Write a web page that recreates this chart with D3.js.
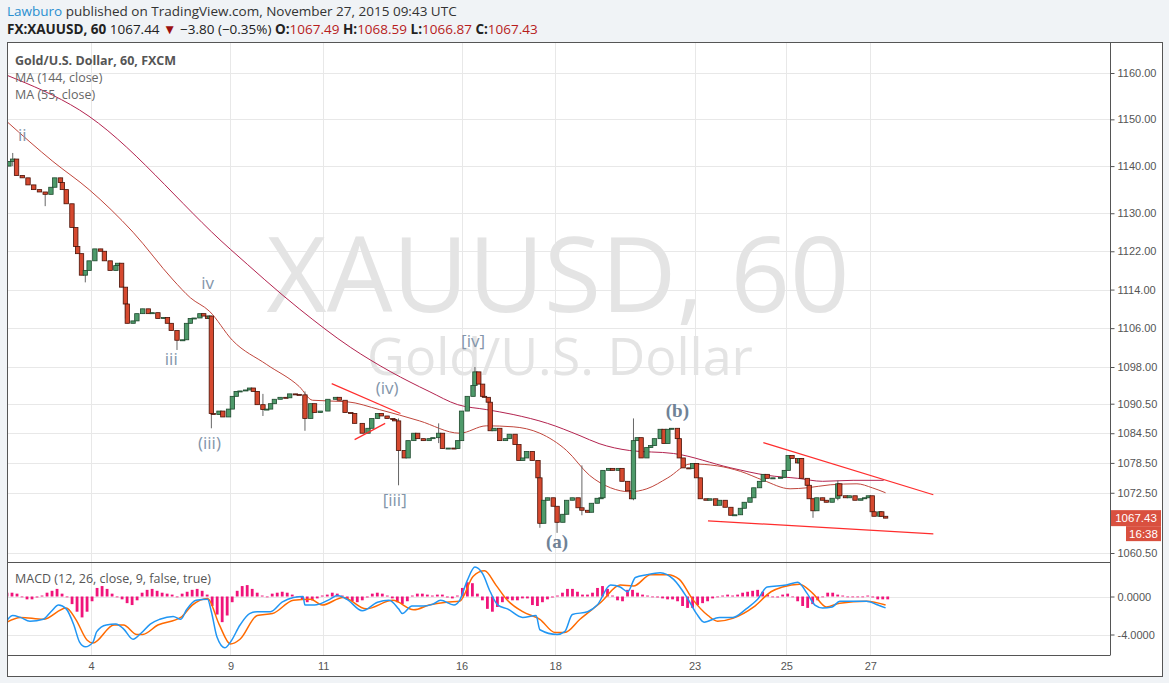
<!DOCTYPE html>
<html><head><meta charset="utf-8">
<script src="https://cdn.jsdelivr.net/npm/d3@7"></script>
<style>
html,body{margin:0;padding:0;background:#f0f3f6;}
svg{display:block;font-family:"Open Sans","Noto Sans",sans-serif;}
</style></head>
<body><svg id="c" width="1169" height="683"></svg>
<script>
// ---------- DATA (time in trading hours from chart start) ----------
const priceBars = [[1,1141],[3,1141.5],[5,1138],[8,1137.5],[11,1136],[14,1135],[17,1134.5],[20,1134],[23,1135.5],[25,1137.5],[28,1136.5],[29,1135],[31,1132],[34,1127],[36,1123],[37,1121.5],[39,1117],[41,1118],[43,1120],[46,1122.5],[49,1122],[51,1120],[54,1118],[57,1119],[58,1119.5],[60,1114.5],[62,1111],[63,1107],[66,1107.5],[68,1109],[71,1110],[74,1109],[76,1109.2],[79,1108],[82,1108.2],[84,1107],[86,1105.5],[89,1103.5],[92,1103.6],[94,1107],[96,1108],[98,1108.1],[101,1109],[103,1108.5],[105,1108],[106,1108.5],[107,1088.5],[108,1088.3],[111,1089],[113,1087.8],[116,1089.4],[118,1092],[120,1093],[122,1093.1],[125,1093.3],[127,1093.7],[129,1093],[131,1090.3],[134,1089.3],[136,1089.4],[138,1090.5],[140,1091.4],[143,1091.8],[146,1091.7],[148,1092.5],[151,1092.4],[153,1092.3],[156,1087.5],[159,1090.5],[161,1088.7],[164,1089],[168,1091.4],[172,1091.8],[174,1091.2],[177,1088.7],[180,1088.5],[182,1086.5],[186,1084.5],[189,1085.5],[191,1087.5],[194,1088.5],[196,1088],[199,1087.5],[202,1087.3],[203,1087],[205,1081],[208,1079.5],[210,1083],[213,1084.5],[215,1083.4],[218,1083],[221,1083.4],[223,1083.6],[226,1084.5],[228,1081.4],[231,1081.5],[234,1081.4],[236,1083],[238,1089],[241,1092],[244,1094.2],[245,1097],[247,1094.5],[249,1092],[250,1091.8],[252,1090.8],[253,1085],[255,1085.5],[258,1083],[261,1083.4],[263,1084.3],[266,1082.2],[268,1079],[270,1079.5],[272,1080.8],[275,1079],[278,1075.5],[279,1066.4],[281,1071],[283,1071.5],[286,1069.8],[288,1066.6],[291,1068.2],[293,1071],[296,1071.5],[299,1069.5],[301,1069],[304,1068.6],[306,1070.4],[309,1071.4],[311,1071.5],[312,1077],[315,1077.4],[317,1077],[320,1077.4],[322,1074.8],[325,1072.9],[327,1071.3],[328,1083],[330,1083.6],[332,1079.5],[335,1081.6],[337,1082],[339,1083.4],[342,1085.3],[344,1082.4],[346,1085.3],[348,1085.5],[351,1083.4],[352,1079.5],[354,1077.5],[357,1077.4],[359,1078.4],[361,1075.5],[363,1071.3],[366,1071],[368,1071.3],[371,1070],[373,1071],[376,1069.6],[379,1068],[381,1068.1],[384,1069.4],[386,1070.6],[389,1071.5],[391,1073.5],[394,1074.8],[396,1076.2],[398,1075.4],[401,1075.5],[405,1075.6],[407,1077],[409,1080],[411,1079.4],[414,1078.5],[415,1079.4],[416,1075.4],[419,1074],[420,1071.3],[422,1068.9],[424,1071.5],[427,1071],[429,1070.6],[432,1071.4],[435,1074.3],[436,1071.9],[439,1071.5],[441,1071.9],[444,1071],[447,1071.3],[449,1071.5],[451,1071.9],[453,1068.7],[454,1067.8],[457,1068.7],[458,1067.8],[460,1067.43]];
const firstOpen = 1140;
// extra wick extremes [hour, high, low]
const wickSpikes = [[3,1142.8,1140],[20,1134,1131.5],[41,1118,1115.5],[62,1112,1108],[89,1105,1101.5],[107,1108.5,1085.5],[134,1092.5,1088],[156,1093,1085],[205,1087.5,1074],[226,1086.5,1082.5],[245,1098,1093],[279,1076,1065.5],[288,1068,1064.5],[301,1078,1068],[328,1087.5,1071],[404,1082.5,1074],[422,1071.5,1067.5],[435,1075,1071]];
const ma144 = [[0,1159.5],[38,1152],[117,1122.4],[153,1110],[180,1102],[201,1097],[221,1093],[236,1090.3],[251,1089.3],[265,1088.3],[283,1086.5],[300,1084],[310,1082.4],[326,1081],[349,1080.4],[379,1077.5],[398,1076],[414,1075.4],[427,1074.8],[443,1075],[459,1075]];
const ma55 = [[0,1149.5],[24,1141],[43,1135],[66,1126],[87,1116],[96,1112.3],[106,1109.5],[118,1103.5],[136,1098.5],[153,1094],[160,1091.2],[178,1090.9],[195,1089.3],[216,1087],[237,1084.5],[251,1086],[265,1085.8],[279,1084.5],[293,1081],[305,1076],[316,1073.5],[326,1072.7],[335,1073.3],[346,1075.5],[358,1078.3],[372,1077.9],[384,1076.8],[396,1075],[410,1073.3],[419,1073.5],[431,1074.1],[445,1074.3],[453,1073.5],[460,1072.5]];
const macdLine = [[0,-2.5],[3,-2.0],[7,-2.2],[12,-2.6],[19,-2.4],[23,-1.6],[27,-0.9],[31,-1.3],[35,-3.0],[38,-4.8],[41,-5.3],[45,-4.8],[47,-3.7],[52,-3.0],[57,-2.9],[61,-3.4],[66,-4.5],[70,-3.9],[75,-2.9],[80,-2.4],[87,-2.1],[91,-2.4],[94,-1.4],[99,-0.4],[105,-0.3],[107,-1.6],[110,-4.3],[114,-5.4],[117,-4.8],[122,-3.0],[127,-1.8],[131,-1.6],[138,-1.6],[144,-0.6],[150,-0.1],[155,0],[156,-0.9],[161,-0.9],[169,-0.3],[173,0.1],[178,-0.3],[186,-1.5],[194,-0.6],[200,-0.4],[205,-1.3],[207,-1.8],[212,-1.0],[218,-1.0],[223,-0.8],[227,-0.4],[234,-0.9],[237,-0.4],[241,1.7],[245,3.1],[249,2.4],[253,0.5],[257,-0.9],[262,-1.3],[270,-2.2],[277,-2.0],[279,-3.5],[288,-4.0],[292,-3.7],[296,-1.9],[304,-1.6],[309,-0.9],[316,1.2],[321,1.0],[325,0.5],[329,2.0],[335,2.3],[342,2.5],[349,1.8],[356,-0.1],[361,-1.8],[365,-2.7],[373,-2.2],[380,-2.2],[387,-1.3],[393,-0.3],[398,1.0],[408,1.2],[414,1.5],[419,0.3],[423,-0.9],[427,-1.2],[432,-1.1],[436,-0.5],[450,-0.5],[456,-0.9],[460,-1.2]];
const signalLine = [[0,-2.7],[7,-2.2],[19,-2.4],[31,-1.2],[36,-2.4],[42,-4.6],[45,-4.9],[56,-3.0],[61,-3.0],[68,-4.0],[71,-4.0],[79,-3.0],[91,-2.2],[97,-0.9],[105,-0.2],[111,-2.9],[117,-5.0],[122,-4.5],[131,-2.0],[139,-1.8],[150,-0.4],[159,-0.3],[165,-0.9],[176,-0.1],[188,-1.3],[202,-0.4],[213,-1.4],[221,-0.9],[230,-0.6],[237,-0.5],[244,2.1],[250,2.7],[256,1.2],[262,-0.4],[270,-1.6],[279,-2.4],[287,-3.8],[292,-3.8],[300,-2.4],[311,-0.6],[321,1.2],[328,1.1],[337,2.3],[346,2.3],[352,1.8],[359,-0.3],[367,-2.0],[372,-2.6],[380,-2.3],[391,-1.1],[400,0.5],[406,1.0],[415,1.3],[422,0.3],[429,-1.1],[436,-0.7],[450,-0.5],[460,-0.9]];
const histStep = 2.62; // hours between histogram samples
const histValues = [0.4,0.4,0.3,0,-0.3,-0.3,-0.1,0.1,0.4,0.6,0.8,0.3,0,-0.8,-1.6,-2.2,-1.6,-0.5,0.9,1.1,0.8,0.3,0,-0.3,-0.7,-0.9,-0.4,0.4,0.7,0.8,0.6,0.4,0.3,0.2,0,0.3,0.5,0.7,0.8,0.6,0.2,-1.0,-1.9,-2.7,-2.0,-0.6,0.6,1.1,1.2,0.8,0.4,0.1,0,0.3,0.4,0.5,0.4,0.2,0,-0.3,-0.6,-0.4,-0.2,0.1,0.2,0.4,0.3,0.1,-0.3,-0.5,-0.6,-0.4,-0.1,0.3,0.4,0.3,0.1,-0.2,-0.6,-0.8,-0.5,0.1,0.3,0.3,0.2,0.1,0.2,0.2,-0.1,-0.2,0.1,0.9,1.5,1.4,0.3,-0.4,-1.3,-1.6,-1.1,-0.6,-0.3,-0.4,-0.4,-0.2,-0.2,-0.9,-1.0,-0.6,-0.3,-0.1,0.1,0.4,0.8,0.8,0.5,0.2,0.2,0.4,0.9,1.1,0.8,0.1,-0.4,-0.5,0.7,0.7,0.4,0.2,0.1,0,-0.1,-0.2,-0.3,-0.3,-0.5,-1.0,-1.2,-1.2,-0.9,-0.7,-0.5,-0.2,0,0.1,0.2,0.1,0.2,0.4,0.5,0.6,0.7,0.5,0.2,0,-0.1,0.2,0.3,0,-0.5,-1.0,-1.2,-0.8,-0.4,0,0.4,0.4,0.2,0.1,0,0,0,0,0.1,-0.1,-0.3,-0.3,-0.3];
const priceTicks = [1160,1150,1140,1130,1122,1114,1106,1098,1090.5,1084.5,1078.5,1072.5,1060.5];
const macdTicks = [0,-4];
const dayTicks = [[44,"4"],[117,"9"],[165.5,"11"],[238,"16"],[287,"18"],[360,"23"],[408,"25"],[452,"27"]];
const waveLabels = [[8,1145.3,"ii",false],[105,1114.2,"iv",false],[86,1098.4,"iii",false],[106,1081.3,"(iii)",false],[199,1092.4,"(iv)",false],[203,1069.9,"[iii]",false],[244,1102.2,"[iv]",false],[288,1061.5,"(a)",true],[351,1087.8,"(b)",true]];
const trendLines = [[[170,1094.6],[206,1088.5]],[[182,1083.2],[198,1086.5]],[[396,1082.6],[485,1072.1]],[[367,1066.9],[485,1064.3]]];
const lastPrice = 1067.43, countdown = "16:38";

// ---------- DRAW ----------
const svg = d3.select("#c");
const L=7, R=1110, OR=1163, T=42, PB=562, MB=655, OB=677;
const x = d3.scaleLinear().domain([0,461]).range([7,887.5]);
const y = d3.scaleLog().domain([1060.5,1160]).range([553,73]);
const ym = d3.scaleLinear().domain([-4,0]).range([634.5,596.5]);

svg.append("rect").attr("x",L).attr("y",T).attr("width",OR-L).attr("height",OB-T).attr("fill","#fff");
svg.append("clipPath").attr("id","cp").append("rect").attr("x",L).attr("y",T).attr("width",R-L).attr("height",PB-T);
svg.append("clipPath").attr("id","cm").append("rect").attr("x",L).attr("y",PB).attr("width",R-L).attr("height",MB-PB);

const grid = svg.append("g").attr("stroke","#e8e8e8").attr("stroke-width",1);
priceTicks.forEach(t=>grid.append("line").attr("x1",L).attr("x2",R).attr("y1",Math.round(y(t))+0.5).attr("y2",Math.round(y(t))+0.5));
macdTicks.forEach(t=>grid.append("line").attr("x1",L).attr("x2",R).attr("y1",Math.round(ym(t))+0.5).attr("y2",Math.round(ym(t))+0.5));
dayTicks.forEach(d=>grid.append("line").attr("x1",Math.round(x(d[0]))+0.5).attr("x2",Math.round(x(d[0]))+0.5).attr("y1",T).attr("y2",MB));

// watermark
svg.append("text").attr("x",558).attr("y",312).attr("text-anchor","middle").attr("font-size",104).attr("fill","#e4e4e4").attr("font-family","Open Sans, sans-serif").text("XAUUSD, 60");
svg.append("text").attr("x",560).attr("y",375).attr("text-anchor","middle").attr("font-size",52).attr("fill","#e4e4e4").attr("font-family","Open Sans, sans-serif").text("Gold/U.S. Dollar");

const gp = svg.append("g").attr("clip-path","url(#cp)");
const line = d3.line().x(d=>x(d[0])).y(d=>y(d[1])).curve(d3.curveMonotoneX);
gp.append("path").datum(ma144).attr("d",line).attr("fill","none").attr("stroke","#b3234f").attr("stroke-width",1);
gp.append("path").datum(ma55).attr("d",line).attr("fill","none").attr("stroke","#c0463c").attr("stroke-width",1);

// candles
const bars = priceBars.map((d,i)=>({h:d[0],o:i?priceBars[i-1][1]:firstOpen,c:d[1]}));
const spikeMap = new Map(wickSpikes.map(w=>[w[0],w]));
const cg = gp.append("g");
bars.forEach(b=>{
  const s = spikeMap.get(b.h);
  const hi = s?Math.max(s[1],b.o,b.c):Math.max(b.o,b.c);
  const lo = s?Math.min(s[2],b.o,b.c):Math.min(b.o,b.c);
  const up = b.c>=b.o;
  const cx = x(b.h);
  cg.append("line").attr("x1",cx).attr("x2",cx).attr("y1",y(hi)).attr("y2",y(lo)).attr("stroke","#666").attr("stroke-width",1);
  const yt=y(Math.max(b.o,b.c)), yb=y(Math.min(b.o,b.c));
  cg.append("rect").attr("x",cx-2.2).attr("y",yt).attr("width",4.4).attr("height",Math.max(1,yb-yt))
    .attr("fill",up?"#4e9a6a":"#d6492f").attr("stroke",up?"#1f4a2e":"#4a1208").attr("stroke-width",0.8);
});

// trend lines
trendLines.forEach(t=>svg.append("line").attr("x1",x(t[0][0])).attr("y1",y(t[0][1])).attr("x2",x(t[1][0])).attr("y2",y(t[1][1])).attr("stroke","#ff2d2d").attr("stroke-width",1.2));

// wave labels
waveLabels.forEach(w=>{
  svg.append("text").attr("x",x(w[0])).attr("y",y(w[1])).attr("text-anchor","middle")
   .attr("font-size",w[3]?19:17).attr("font-weight",w[3]?"bold":"normal")
   .attr("font-family",w[3]?"Liberation Serif, DejaVu Serif, serif":"Open Sans, sans-serif")
   .attr("fill",w[3]?"#6f8296":"#8395aa").text(w[2]);
});

// MACD
const gm = svg.append("g").attr("clip-path","url(#cm)");
histValues.forEach((v,i)=>{
  const cx = x(i*histStep);
  gm.append("rect").attr("x",cx-1.4).attr("width",2.8).attr("y",Math.min(ym(v),ym(0))).attr("height",Math.max(0.8,Math.abs(ym(v)-ym(0)))).attr("fill","#f0147a");
});
const mline = d3.line().x(d=>x(d[0])).y(d=>ym(d[1])).curve(d3.curveMonotoneX);
gm.append("path").datum(signalLine).attr("d",mline).attr("fill","none").attr("stroke","#ff6a00").attr("stroke-width",1.5);
gm.append("path").datum(macdLine).attr("d",mline).attr("fill","none").attr("stroke","#2196f3").attr("stroke-width",1.5);

// frames
const fr = svg.append("g").attr("stroke","#555").attr("fill","none");
fr.append("rect").attr("x",L+0.5).attr("y",T+0.5).attr("width",OR-L-1).attr("height",OB-T-1);
fr.append("line").attr("x1",R+0.5).attr("x2",R+0.5).attr("y1",T).attr("y2",MB);
fr.append("line").attr("x1",L).attr("x2",R).attr("y1",PB+0.5).attr("y2",PB+0.5);
fr.append("line").attr("x1",L).attr("x2",R+0.5).attr("y1",MB+0.5).attr("y2",MB+0.5);

// axes
const pa = svg.append("g").attr("transform",`translate(${R+0.5},0)`).call(d3.axisRight(y).tickValues(priceTicks).tickFormat(d3.format(".2f")).tickSize(4));
const ma = svg.append("g").attr("transform",`translate(${R+0.5},0)`).call(d3.axisRight(ym).tickValues(macdTicks).tickFormat(d=>d3.format(".4f")(d).replace("−","-")).tickSize(4));
const da = svg.append("g").attr("transform",`translate(0,${MB+0.5})`).call(d3.axisBottom(x).tickValues(dayTicks.map(d=>d[0])).tickFormat((d,i)=>dayTicks[i][1]).tickSize(0).tickPadding(7));
[pa,ma,da].forEach(a=>{a.select(".domain").remove();a.selectAll("line").attr("stroke","#555");a.selectAll("text").attr("fill","#555").attr("font-size",11).attr("font-family","Liberation Sans, Arial, sans-serif");});

// last price label
svg.append("rect").attr("x",1111).attr("y",y(lastPrice)-8).attr("width",50).attr("height",16).attr("fill","#d9503f");
svg.append("text").attr("x",1136).attr("y",y(lastPrice)+4).attr("text-anchor","middle").attr("fill","#fff").attr("font-size",11.5).attr("font-family","Liberation Sans, Arial, sans-serif").text(d3.format(".2f")(lastPrice));
svg.append("rect").attr("x",1126).attr("y",y(lastPrice)+8).attr("width",35).attr("height",15).attr("fill","#d9503f");
svg.append("text").attr("x",1143.5).attr("y",y(lastPrice)+19.5).attr("text-anchor","middle").attr("fill","#fff").attr("font-size",11.5).attr("font-family","Liberation Sans, Arial, sans-serif").text(countdown);

// legends
svg.append("text").attr("x",15).attr("y",65).attr("font-size",12.5).attr("font-weight","bold").attr("fill","#555").text("Gold/U.S. Dollar, 60, FXCM");
svg.append("text").attr("x",15).attr("y",82).attr("font-size",12.5).attr("fill","#666").text("MA (144, close)");
svg.append("text").attr("x",15).attr("y",99).attr("font-size",12.5).attr("fill","#666").text("MA (55, close)");
svg.append("text").attr("x",15).attr("y",583).attr("font-size",12.5).attr("fill","#555").text("MACD (12, 26, close, 9, false, true)");

// header
const h1 = svg.append("text").attr("x",7).attr("y",16).attr("font-size",13.5).attr("fill","#333");
h1.append("tspan").attr("fill","#2a8fd0").text("Lawburo");
h1.append("tspan").text(" published on TradingView.com, November 27, 2015 09:43 UTC");
const h2 = svg.append("text").attr("x",7).attr("y",34).attr("font-size",13.5).attr("fill","#222");
h2.append("tspan").attr("font-weight","bold").text("FX:XAUUSD, 60");
h2.append("tspan").text(" 1067.44 ");
h2.append("tspan").attr("fill","#9b1010").text("▼");
h2.append("tspan").text(" −3.80 (−0.35%) ");
[["O:","1067.49"],["H:","1068.59"],["L:","1066.87"],["C:","1067.43"]].forEach(p=>{
  h2.append("tspan").attr("font-weight","bold").text(p[0]);
  h2.append("tspan").attr("fill","#b71c1c").text(p[1]+" ");
});
</script></body></html>
